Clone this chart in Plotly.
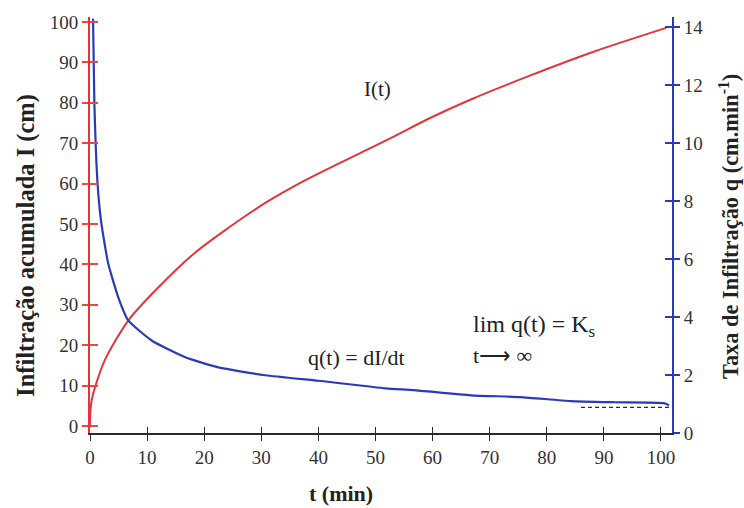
import plotly.graph_objects as go

# ---- data ----
I_t = [0, 0.05, 0.3, 0.88, 2.6, 6.7, 11.9, 18.4, 24.2, 30.7, 37.4, 47.4, 53.2, 59.1, 66.7, 76.7, 88.2, 100.9]
I_val = [0, 3.2, 6.4, 9.6, 16.3, 26.1, 34.2, 42.9, 49.0, 55.2, 60.6, 67.6, 71.6, 75.9, 80.8, 86.5, 92.6, 98.5]

q_t = [0.53, 0.76, 1.3, 1.93, 3.2, 4.97, 6.7, 10.8, 16.7, 22.5, 30.7, 40.0, 51.8, 56.7, 66.7, 75.4, 84.2, 91.8, 100.5, 101.4]
q_val = [14.28, 11.43, 8.68, 7.31, 5.83, 4.67, 3.88, 3.19, 2.61, 2.26, 1.99, 1.80, 1.54, 1.48, 1.30, 1.24, 1.10, 1.06, 1.03, 0.96]

ks_t = [86, 101.4]
ks_val = [0.88, 0.88]

x_ticks = list(range(0, 101, 10))
yl_ticks = list(range(0, 101, 10))
yr_ticks = list(range(0, 15, 2))

W, H = 744, 508
L, R, T, B = 90, 72, 15, 75
PW, PH = W - L - R, H - T - B

def px(x):
    return (x - L) / PW

def py(y):
    return (H - B - y) / PH

FONT = "Liberation Serif, Times New Roman, serif"
RED = "#e2353c"
REDT = "#ea4a3a"
BLUE = "#2a3ab8"
BLACK = "#2b2b2b"

x_range = [0, 101.93]
yl_range = [-1.72, 101.2]
yr_range = [0, 14.34]

fig = go.Figure()
fig.add_trace(go.Scatter(x=I_t, y=I_val, mode="lines", line=dict(color=RED, width=2, shape="spline", smoothing=0.8),
                         xaxis="x", yaxis="y", showlegend=False, hoverinfo="skip"))
fig.add_trace(go.Scatter(x=q_t, y=q_val, mode="lines", line=dict(color=BLUE, width=2.2, shape="spline", smoothing=0.5),
                         xaxis="x", yaxis="y2", showlegend=False, hoverinfo="skip"))
fig.add_trace(go.Scatter(x=ks_t, y=ks_val, mode="lines", line=dict(color=BLACK, width=1.3, dash="4px,3px"),
                         xaxis="x", yaxis="y2", showlegend=False, hoverinfo="skip"))
# dummy traces so the tick-only overlay axes are drawn
for xa, ya in [("x2", "y3"), ("x2", "y4")]:
    fig.add_trace(go.Scatter(x=[50], y=[0], mode="markers", marker=dict(opacity=0), xaxis=xa, yaxis=ya,
                             showlegend=False, hoverinfo="skip"))

tickfont = dict(family=FONT, size=19, color="#333")

fig.update_layout(
    width=W, height=H, margin=dict(l=L, r=R, t=T, b=B),
    paper_bgcolor="white", plot_bgcolor="white",
    xaxis=dict(range=x_range, tickvals=x_ticks, ticks="outside", ticklen=6, tickcolor=BLACK, tickwidth=1.3,
               showline=True, linecolor=BLACK, linewidth=1.5, showgrid=False, zeroline=False,
               tickfont=tickfont, anchor="y"),
    xaxis2=dict(range=x_range, tickvals=x_ticks, ticks="inside", ticklen=6, tickcolor=BLACK, tickwidth=1.3,
                showticklabels=False, showline=False, showgrid=False, zeroline=False, overlaying="x", anchor="y"),
    yaxis=dict(range=yl_range, tickvals=yl_ticks, ticks="outside", ticklen=6, tickcolor=REDT, tickwidth=1.5,
               showline=True, linecolor=RED, linewidth=1.8, showgrid=False, zeroline=False,
               tickfont=tickfont, anchor="x"),
    yaxis3=dict(range=yl_range, tickvals=yl_ticks, ticks="inside", ticklen=8, tickcolor=REDT, tickwidth=1.5,
                showticklabels=False, showline=False, showgrid=False, zeroline=False, overlaying="y", side="left", anchor="x"),
    yaxis2=dict(range=yr_range, tickvals=yr_ticks, ticks="outside", ticklen=6, tickcolor=BLUE, tickwidth=1.5,
                showline=True, linecolor=BLUE, linewidth=1.8, showgrid=False, zeroline=False,
                tickfont=tickfont, overlaying="y", side="right", anchor="x"),
    yaxis4=dict(range=yr_range, tickvals=yr_ticks, ticks="inside", ticklen=7, tickcolor=BLUE, tickwidth=1.5,
                showticklabels=False, showline=False, showgrid=False, zeroline=False, overlaying="y", side="right", anchor="x"),
)

ann = []
def add_text(text, x, y, size, xanchor="center", yanchor="middle", bold=False, angle=0, color="#222"):
    if bold:
        text = "<b>" + text + "</b>"
    ann.append(dict(text=text, x=px(x), y=py(y), xref="paper", yref="paper", showarrow=False,
                    xanchor=xanchor, yanchor=yanchor, textangle=angle,
                    font=dict(family=FONT, size=size, color=color)))

add_text("Infiltração acumulada I (cm)", 26, 245, 24.5, bold=True, angle=-90)
add_text("Taxa de Infiltração q (cm.min<sup>-1</sup>)", 729, 226, 22.4, bold=True, angle=-90)
add_text("t (min)", 341, 494, 22, bold=True)
add_text("I(t)", 377, 87, 21)
add_text("q(t) = dI/dt", 356, 357, 22)
add_text("lim q(t) = K<sub>s</sub>", 471, 325, 24, xanchor="left")
add_text("t⟶ ∞", 471, 355, 22, xanchor="left")
fig.update_layout(annotations=ann)

fig.write_html("out.html", config={"displayModeBar": False},
               post_script="document.body.style.margin='0';document.body.style.overflow='hidden';")
